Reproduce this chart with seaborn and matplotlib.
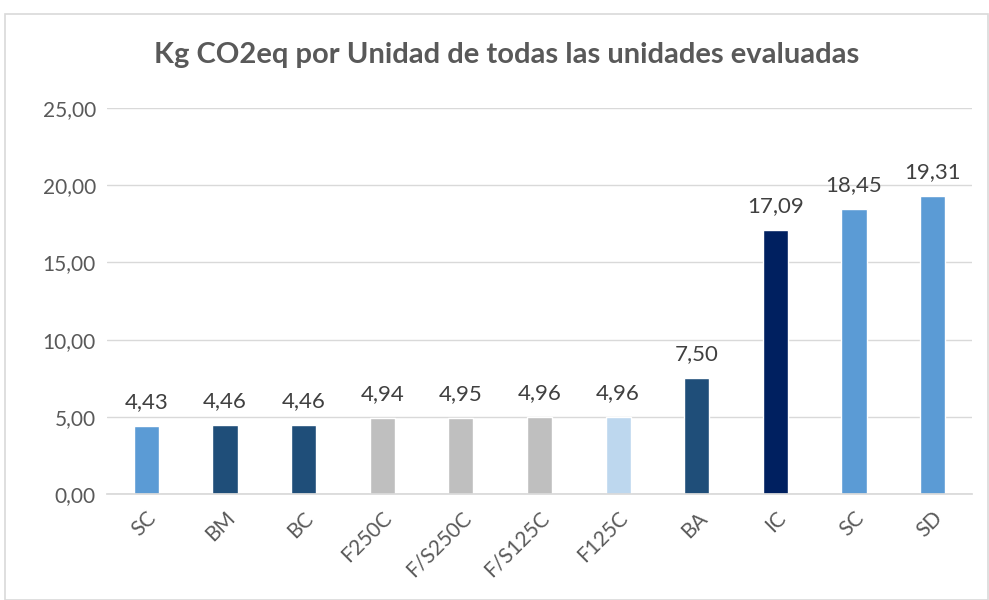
import matplotlib
matplotlib.use("Agg")
import matplotlib.pyplot as plt
import seaborn as sns
import pandas as pd
from matplotlib.patches import Rectangle

categories = ["SC", "BM", "BC", "F250C", "F/S250C", "F/S125C", "F125C", "BA", "IC", "SC", "SD"]
values = [4.43, 4.46, 4.46, 4.94, 4.95, 4.96, 4.96, 7.50, 17.09, 18.45, 19.31]
bar_colors = ["#5B9BD5", "#1F4E79", "#1F4E79", "#BFBFBF", "#BFBFBF", "#BFBFBF",
              "#BDD7EE", "#1F4E79", "#002060", "#5B9BD5", "#5B9BD5"]
yticks = [0, 5, 10, 15, 20, 25]
title = "Kg CO2eq por Unidad de todas las unidades evaluadas"

sns.set_theme(style="white")
plt.rcParams['font.family'] = ['Lato', 'DejaVu Sans']

df = pd.DataFrame({"idx": [str(i) for i in range(len(categories))], "val": values})
pal = {str(i): c for i, c in enumerate(bar_colors)}

fig = plt.figure(figsize=(9.89, 6), dpi=100)
fig.patches.append(Rectangle((5/989, 0), 983/989, 1 - 14/600, transform=fig.transFigure,
                             fill=False, edgecolor="#D9D9D9", linewidth=1.2))
ax = fig.add_axes([107/989, 1 - 494/600, 865/989, 386/600])
sns.barplot(data=df, x="idx", y="val", hue="idx", palette=pal, order=df["idx"],
            width=0.32, legend=False, ax=ax, saturation=1)

ax.set_ylim(0, 25)
ax.set_yticks(yticks)
ax.set_yticklabels([f"{v:.2f}".replace(".", ",") for v in yticks], color="#595959", fontsize=15)
ax.set_xticks(range(len(categories)))
ax.set_xticklabels(categories, rotation=45, ha="right", rotation_mode="anchor",
                   color="#595959", fontsize=15)
ax.tick_params(axis="x", length=0, pad=10)
ax.tick_params(axis="y", length=0, pad=8)
ax.grid(axis="y", color="#D9D9D9", linewidth=1)
ax.set_axisbelow(True)
for s in ["top", "right", "left"]:
    ax.spines[s].set_visible(False)
ax.spines["bottom"].set_color("#D9D9D9")
ax.set_xlabel("")
ax.set_ylabel("")

for cont in ax.containers:
    ax.bar_label(cont, labels=[f"{b.get_height():.2f}".replace(".", ",") for b in cont],
                 padding=10, fontsize=16, color="#404040")

fig.text(507/989, 1 - 55/600, title, ha="center", va="center", fontsize=21,
         fontweight="bold", color="#595959")

fig.savefig("out.png", dpi=100)
